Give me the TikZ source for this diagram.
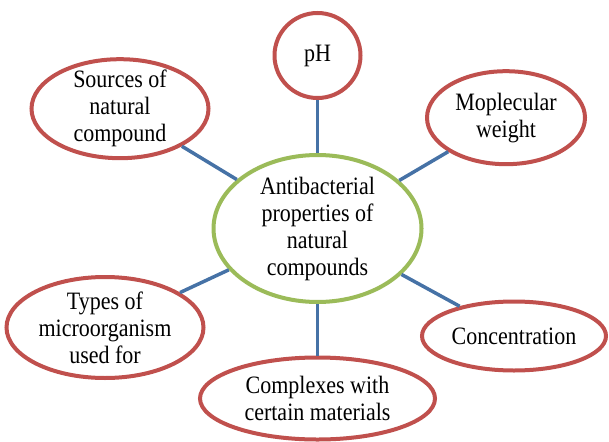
\documentclass[tikz,border=0pt]{standalone}
\usepackage{fontspec}
\setmainfont[FakeStretch=0.88]{Liberation Serif}
\usetikzlibrary{shapes.geometric}
\definecolor{ringred}{RGB}{192,80,77}
\definecolor{hubgreen}{RGB}{155,187,89}
\definecolor{spokeblue}{RGB}{70,114,166}

\begin{document}
\begin{tikzpicture}[x=1pt,y=-1pt,line width=4pt,
                    every node/.style={font=\fontsize{25}{27}\selectfont,align=center},
                    hub/.style={shape=ellipse,draw=hubgreen,fill=white,inner xsep=0pt,inner ysep=-10pt},
                    factor/.style={shape=ellipse,draw=ringred,fill=white,inner xsep=0pt,inner ysep=-10pt},
                    spoke/.style={draw=spokeblue,line width=3.5pt}]
  \useasboundingbox (0,0) rectangle (609,441);
  \node[hub,minimum width=208pt,minimum height=147pt] (props) at (317.5,228.5) {Antibacterial\\properties of\\natural\\compounds};
    \node[factor,minimum width=86pt,minimum height=85pt] (ph) [above of=props,node distance=173pt] {pH};
  \node[factor,minimum width=177pt,minimum height=99pt] (sources) at (120,108.7) {Sources of\\natural\\compound};
  \node[factor,minimum width=158pt,minimum height=93pt] (weight) at (506,117.7) {Moplecular\\weight};
  \node[factor,minimum width=197pt,minimum height=101pt] (types) at (105,327.5) {Types of\\microorganism\\used for};
      \node[factor,minimum width=184pt,minimum height=69pt] (conc) at (514,336) {Concentration};
  \node[factor,minimum width=235pt,minimum height=82pt] (complexes) [below of=props,node distance=170pt] {Complexes with\\certain materials};
  \path[spoke] (props) edge (ph)
                       edge (weight)
                       edge (conc)
                       edge (complexes)
                       edge (types)
                       edge (sources);
\end{tikzpicture}
\end{document}
